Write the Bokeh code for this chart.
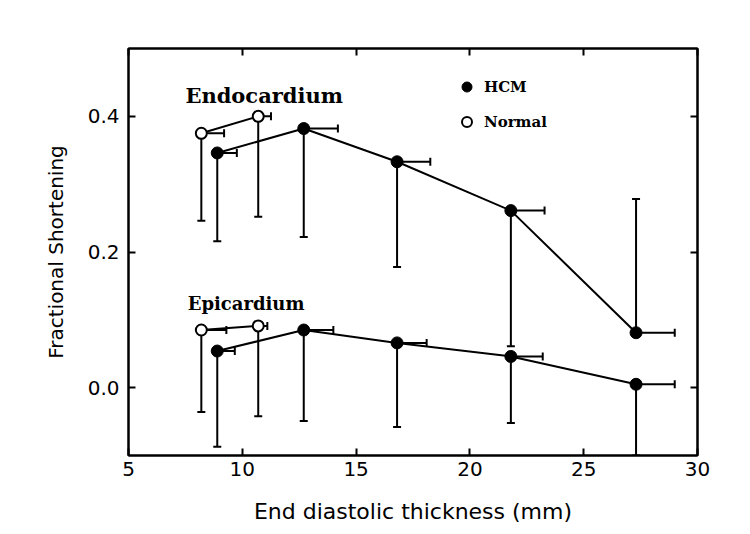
from bokeh.plotting import figure
from bokeh.models import (Range1d, LinearAxis, FixedTicker, NumeralTickFormatter,
                          Label, Legend, LegendItem, ColumnDataSource)
from bokeh.embed import file_html
from bokeh.resources import INLINE

# ---- data ----
hcm_x = [8.9, 12.7, 16.8, 21.8, 27.3]
normal_x = [8.2, 10.7]

endo_hcm_y = [0.346, 0.382, 0.333, 0.261, 0.081]
endo_hcm_bar_end = [0.216, 0.222, 0.178, 0.061, 0.278]
endo_hcm_x_hi = [9.76, 14.2, 18.26, 23.28, 29.0]

endo_normal_y = [0.375, 0.400]
endo_normal_bar_end = [0.246, 0.252]
endo_normal_x_hi = [9.2, 11.26]

epi_hcm_y = [0.054, 0.085, 0.066, 0.046, 0.005]
epi_hcm_bar_end = [-0.087, -0.049, -0.058, -0.052, -0.10]
epi_hcm_x_hi = [9.67, 14.0, 18.1, 23.2, 29.0]

epi_normal_y = [0.085, 0.091]
epi_normal_bar_end = [-0.036, -0.042]
epi_normal_x_hi = [9.3, 11.1]

x_ticks = [5, 10, 15, 20, 25, 30]
y_ticks = [0.0, 0.2, 0.4]

region_labels = ["Endocardium", "Epicardium"]
region_label_x = [7.5, 7.6]
region_label_y = [0.430, 0.124]
region_label_size = ["21px", "18px"]

p = figure(frame_width=569, frame_height=407,
           min_border_left=128, min_border_right=45,
           min_border_top=48, min_border_bottom=72,
           x_range=Range1d(5, 30), y_range=Range1d(-0.1, 0.5),
           output_backend="svg", toolbar_location=None,
           x_axis_label="End diastolic thickness (mm)",
           y_axis_label="Fractional Shortening")
p.xgrid.visible = False
p.ygrid.visible = False
p.outline_line_color = "black"
p.outline_line_width = 2
p.background_fill_color = "white"
p.border_fill_color = "white"

p.xaxis.ticker = FixedTicker(ticks=x_ticks)
p.yaxis.ticker = FixedTicker(ticks=y_ticks)
p.yaxis.formatter = NumeralTickFormatter(format="0.0")

for ax in (p.xaxis[0], p.yaxis[0]):
    ax.axis_line_color = "black"
    ax.axis_line_width = 2
    ax.major_tick_in = 7
    ax.major_tick_out = 0
    ax.major_tick_line_width = 2
    ax.minor_tick_line_color = None
    ax.major_label_text_font = "DejaVu Sans"
    ax.major_label_text_font_size = "20px"
    ax.major_label_text_color = "black"
    ax.axis_label_text_font = "DejaVu Sans"
    ax.axis_label_text_font_style = "normal"
    ax.axis_label_text_color = "black"

p.xaxis.axis_label_text_font_size = "22px"
p.yaxis.axis_label_text_font_size = "20px"
p.xaxis.major_label_standoff = 6
p.xaxis.axis_label_standoff = 20
p.yaxis.major_label_standoff = 9
p.yaxis.axis_label_standoff = 17

top = LinearAxis(ticker=FixedTicker(ticks=x_ticks))
right = LinearAxis(ticker=FixedTicker(ticks=y_ticks))
for ax in (top, right):
    ax.axis_line_color = "black"
    ax.axis_line_width = 2
    ax.major_tick_in = 7
    ax.major_tick_out = 0
    ax.major_tick_line_width = 2
    ax.minor_tick_line_color = None
    ax.major_label_text_font_size = "0px"
    ax.major_label_text_color = None
p.add_layout(top, "above")
p.add_layout(right, "right")


def series(xs, ys, bar_end, x_hi, filled):
    src = ColumnDataSource(dict(x=xs, y=ys, be=bar_end, xh=x_hi))
    # vertical error bars
    p.segment(x0="x", y0="y", x1="x", y1="be", source=src,
              line_color="black", line_width=2)
    p.scatter(x="x", y="be", source=src, marker="dash", size=8,
              line_color="black", line_width=2)
    # horizontal error bars
    p.segment(x0="x", y0="y", x1="xh", y1="y", source=src,
              line_color="black", line_width=2)
    p.scatter(x="xh", y="y", source=src, marker="dash", size=8, angle=1.5708,
              line_color="black", line_width=2)
    p.line(x="x", y="y", source=src, line_color="black", line_width=2)
    if filled:
        r = p.scatter(x="x", y="y", source=src, marker="circle", size=12,
                      fill_color="black", line_color="black", line_width=1)
    else:
        r = p.scatter(x="x", y="y", source=src, marker="circle", size=11,
                      fill_color="white", line_color="black", line_width=2)
    return r


r_hcm = series(hcm_x, endo_hcm_y, endo_hcm_bar_end, endo_hcm_x_hi, True)
r_norm = series(normal_x, endo_normal_y, endo_normal_bar_end, endo_normal_x_hi, False)
series(hcm_x, epi_hcm_y, epi_hcm_bar_end, epi_hcm_x_hi, True)
series(normal_x, epi_normal_y, epi_normal_bar_end, epi_normal_x_hi, False)

for txt, lx, ly, fs in zip(region_labels, region_label_x, region_label_y, region_label_size):
    p.add_layout(Label(x=lx, y=ly, text=txt, text_font="DejaVu Serif",
                       text_font_style="bold", text_font_size=fs,
                       text_baseline="alphabetic", text_color="black"))

legend = Legend(items=[LegendItem(label="HCM", renderers=[r_hcm]),
                       LegendItem(label="Normal", renderers=[r_norm])],
                location=(326, 321), padding=0, margin=0,
                glyph_width=25, glyph_height=25, label_height=25,
                label_standoff=5, spacing=10,
                border_line_color=None, background_fill_alpha=0,
                label_text_font="DejaVu Serif", label_text_font_style="bold",
                label_text_font_size="15px", label_text_color="black")
p.add_layout(legend, "center")

open("out.html", "w").write(file_html(p, INLINE))
